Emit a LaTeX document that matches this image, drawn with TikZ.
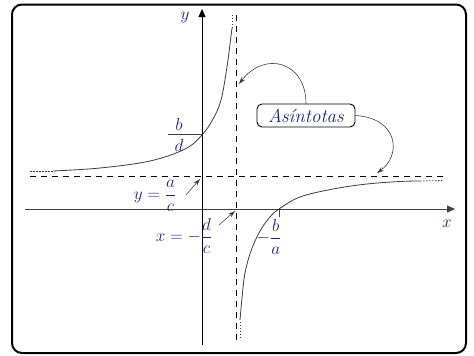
\documentclass[tikz,border=0pt]{standalone}
\usepackage{amsmath}
\usetikzlibrary{arrows.meta}
\definecolor{labelc}{RGB}{30,40,105}
\definecolor{curvec}{RGB}{60,60,60}
\begin{document}
\begin{tikzpicture}[x=1pt,y=-1pt,
  lbl/.style={text=labelc, font=\fontsize{18}{20}\selectfont, inner sep=1pt},
  axisline/.style={line width=0.8pt, draw=black},
  asym/.style={line width=0.8pt, dash pattern=on 6pt off 5pt},
  crv/.style={line width=0.8pt, draw=curvec},
  dotc/.style={line width=0.8pt, draw=curvec, dash pattern=on 1.5pt off 1.5pt},
  ptr/.style={line width=0.6pt, draw=curvec, -{Stealth[length=7pt,width=4.5pt]}},
  axtip/.style={-{Triangle[length=8pt,width=7pt]}},
  tagbox/.style={draw, line width=0.9pt, rounded corners=5pt, minimum width=98pt, minimum height=23pt, text=labelc, font=\fontsize{19}{21}\selectfont\itshape, inner sep=1pt},
]
\useasboundingbox (0,0) rectangle (474,356);
\draw[line width=2pt, rounded corners=10pt] (12,4.5) rectangle (466,353);

% axes
\coordinate (xs) at (25,209); \coordinate (xe) at (455,209);
\coordinate (ys) at (202,345); \coordinate (ye) at (202,9);
\draw[axisline, draw=black!75, axtip] (xs) -- (xe);
\draw[axisline, axtip] (ys) -- (ye);
\node[lbl] (ylab) at (185,17) {$y$};
\node[lbl] (xlab) at (447,224) {$x$};

% asymptotes
\coordinate (va1) at (236,15); \coordinate (va2) at (236,345);
\coordinate (ha1) at (30,176); \coordinate (ha2) at (443,176);
\draw[asym] (va1) -- (va2);
\draw[asym] (ha1) -- (ha2);

% upper-left branch
\draw[dotc] (30,171) -- (53,171);
\draw[crv] plot[smooth, tension=0.6] coordinates {(53,171) (100,168) (150,161) (185,149) (202,135) (213,119) (221,100) (227,67) (230.5,40) (232,28)};
\draw[dotc] (232,28) -- (232,13);

% lower-right branch
\draw[dotc] (240,338) -- (240,320);
\draw[crv] plot[smooth, tension=0.6] coordinates {(240,320) (242,298) (245,273) (251,251) (260,231) (270,217) (279,209) (300,197) (333,189) (367,184) (400,181.5) (420,181)};
\draw[dotc] (420,181) -- (443,180.5);

% b/d on y axis
\draw[curvec, line width=0.8pt] (168,134.5) -- (202,134.5);
\node[lbl] (bd1) at (179,124) {$b$};
\node[lbl] (bd2) at (179,145) {$d$};

% -b/a at x-intercept
\draw[curvec, line width=0.8pt] (279,209) -- (279,217);
\node[lbl] (ba) at (269,237) {$-\dfrac{b}{a}$};

% y = a/c
\node[lbl] (ya) at (155,196) {$y=\dfrac{a}{c}$};
\coordinate (yaTip) at (200,179);
\draw[ptr] (186,195) -- (yaTip);

% x = -d/c
\node[lbl] (xd) at (184,236) {$x=-\dfrac{d}{c}$};
\coordinate (xdTip) at (235,211);
\draw[ptr] (219,225) -- (xdTip);

% Asintotas
\node[tagbox] (asin) at (306,115.5) {Asíntotas};
\coordinate (t1) at (239,84);
\coordinate (t2) at (377,173);
\draw[ptr] (asin.north) .. controls (306,62) and (265,50) .. (t1);
\draw[ptr] (asin.east) .. controls (398,118) and (402,155) .. (t2);
\end{tikzpicture}
\end{document}
